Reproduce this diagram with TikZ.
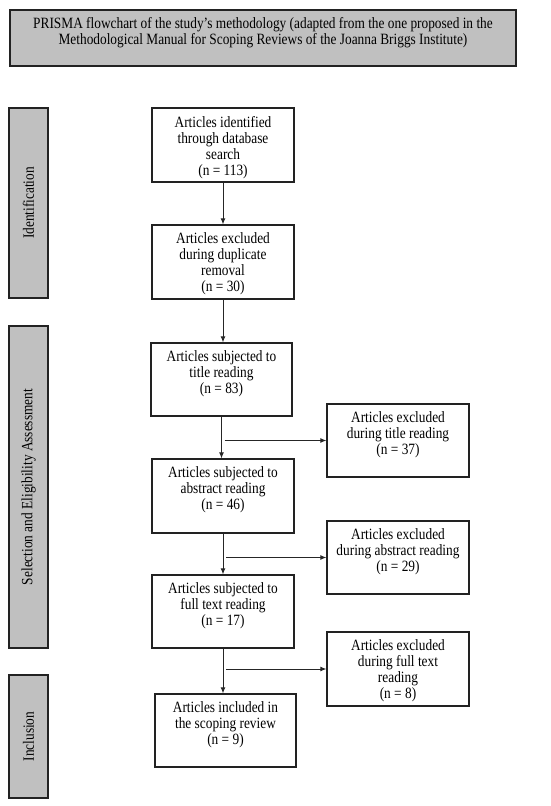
\documentclass[tikz,border=0pt]{standalone}
\usepackage{fontspec}
\setmainfont{Liberation Serif}[FakeStretch=0.85]
\usetikzlibrary{arrows.meta}
\definecolor{boxgray}{HTML}{C0C0C0}
\definecolor{edge}{HTML}{222222}
\begin{document}
\begin{tikzpicture}[x=1pt,y=-1pt,
 box/.style={draw=edge, line width=1.3pt, fill=white, minimum width=142pt, minimum height=74pt, inner sep=0},
 phase/.style={draw=edge, line width=1.5pt, fill=boxgray, minimum width=39pt, inner sep=0},
 txt/.style={anchor=north, align=center, inner sep=0, font=\fontsize{15.7}{16}\selectfont},
 rtxt/.style={rotate=90, inner sep=0, font=\fontsize{15.7}{16}\selectfont},
 arr/.style={draw=black!85, line width=0.9pt, -{Latex[length=6pt,width=5pt]}}]
\useasboundingbox (0,0) rectangle (550,806);
% title
\node[draw=edge, line width=1.5pt, fill=boxgray, minimum width=506pt, minimum height=56pt, inner sep=0] (title) at (263,38) {};
\node[txt] (titletext) at ([yshift=-8.4pt]title.north) {PRISMA flowchart of the study’s methodology (adapted from the one proposed in the\\Methodological Manual for Scoping Reviews of the Joanna Briggs Institute)};
% phases
\node[phase, minimum height=190pt] (idbox) at (28.5,203) {};
\node[rtxt] (idtext) at (idbox) {Identification};
\node[phase, minimum height=322pt] (selbox) at (28.5,487) {};
\node[rtxt] (seltext) at (selbox) {Selection and Eligibility Assessment};
\node[phase, minimum height=123pt] (incbox) at (28.5,736.5) {};
\node[rtxt] (inctext) at (incbox) {Inclusion};
% main boxes
\node[box] (b1) at (223,145) {};
\node[txt] (t1) at ([yshift=-8.4pt]b1.north) {Articles identified\\through database\\search\\(n = 113)};
\node[box] (b2) at (223,262) {};
\node[txt] (t2) at ([yshift=-8.4pt]b2.north) {Articles excluded\\during duplicate\\removal\\(n = 30)};
\node[box, minimum width=141pt, minimum height=73pt] (b3) at (221.5,379.5) {};
\node[txt] (t3) at ([yshift=-8.4pt]b3.north) {Articles subjected to\\title reading\\(n = 83)};
\node[box] (b4) at (223,496) {};
\node[txt] (t4) at ([yshift=-8.4pt]b4.north) {Articles subjected to\\abstract reading\\(n = 46)};
\node[box, minimum height=73pt] (b5) at (223,611.5) {};
\node[txt] (t5) at ([yshift=-8.4pt]b5.north) {Articles subjected to\\full text reading\\(n = 17)};
\node[box, minimum width=141pt, minimum height=73pt] (b6) at (225.5,730.5) {};
\node[txt] (t6) at ([yshift=-8.4pt]b6.north) {Articles included in\\the scoping review\\(n = 9)};
% exclusion boxes
\node[box, minimum height=73pt] (e1) at (398,440.5) {};
\node[txt] (te1) at ([yshift=-8.4pt]e1.north) {Articles excluded\\during title reading\\(n = 37)};
\node[box, minimum height=73pt] (e2) at (398,557.5) {};
\node[txt] (te2) at ([yshift=-8.4pt]e2.north) {Articles excluded\\during abstract reading\\(n = 29)};
\node[box] (e3) at (398,669) {};
\node[txt] (te3) at ([yshift=-8.4pt]e3.north) {Articles excluded\\during full text\\reading\\(n = 8)};
% vertical arrows
\draw[arr] (b1.south) -- (b1.south |- b2.north);
\draw[arr] (b2.south) -- (b2.south |- b3.north);
\draw[arr] (b3.south) -- (b3.south |- b4.north);
\draw[arr] (b4.south) -- (b4.south |- b5.north);
\draw[arr] (b5.south) -- (b5.south |- b6.north);
% side arrows
\coordinate (j1) at ([xshift=3pt]b3.south |- e1.west);
\coordinate (j2) at ([xshift=3pt]b4.south |- e2.west);
\coordinate (j3) at ([xshift=3pt]b5.south |- e3.west);
\draw[arr] (j1) -- (e1.west);
\draw[arr] (j2) -- (e2.west);
\draw[arr] (j3) -- (e3.west);
\end{tikzpicture}
\end{document}
